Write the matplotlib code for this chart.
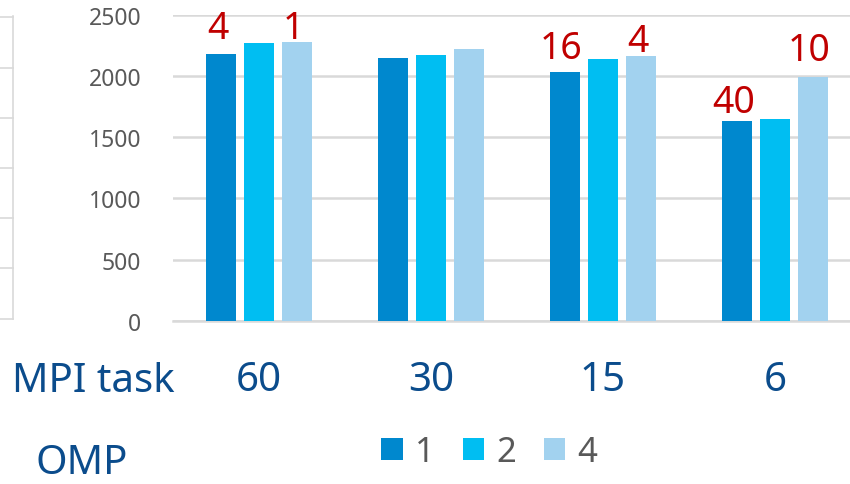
import numpy as np
import matplotlib
matplotlib.use('Agg')
from matplotlib import pyplot as plt
from matplotlib.lines import Line2D
from matplotlib.patches import Patch

plt.rcParams['font.family'] = ['Noto Sans', 'DejaVu Sans']

# MPI task counts on the x axis, one bar per OMP thread count
mpi_tasks = ['60', '30', '15', '6']
omp_threads = ['1', '2', '4']
times_omp1 = [2180, 2150, 2030, 1635]
times_omp2 = [2265, 2175, 2135, 1650]
times_omp4 = [2280, 2220, 2165, 1995]
series = [times_omp1, times_omp2, times_omp4]
colors = ['#0088CE', '#00BEF2', '#A2D2EF']

# red callouts: (group, bar, text, baseline value)
callouts = [(0, 0, '4', 2310), (0, 2, '1', 2310),
            (2, 0, '16', 2144), (2, 2, '4', 2204),
            (3, 0, '40', 1706), (3, 2, '10', 2130)]

W, H = 850, 485
fig = plt.figure(figsize=(W / 100, H / 100), dpi=100)
ax = fig.add_axes([173 / W, (H - 322) / H, (861 - 173) / W, (322 - 15.7) / H])

x = np.arange(len(mpi_tasks))
width = 0.174
step = 0.221
for i, vals in enumerate(series):
    ax.bar(x + (i - 1) * step, vals, width, color=colors[i], zorder=3,
           label=omp_threads[i])

for g, b, txt, yv in callouts:
    ax.text(x[g] + (b - 1) * step - 0.02, yv, txt, color='#C00000', fontsize=27,
            ha='center', va='baseline', zorder=4)

ax.set_xlim(-0.5, 3.5)
ax.set_ylim(0, 2500)
ax.set_yticks([0, 500, 1000, 1500, 2000, 2500])
ax.yaxis.grid(True, color='#D9D9D9', linewidth=1.8, zorder=0)
ax.tick_params(axis='y', length=0, pad=23, labelsize=16.5, labelcolor='#595959')
ax.set_xticks(x)
ax.set_xticklabels(mpi_tasks)
ax.tick_params(axis='x', length=0, pad=28, labelsize=29, labelcolor='#0B4C8C')
for s in ['top', 'right', 'left']:
    ax.spines[s].set_visible(False)
ax.spines['bottom'].set_color('#D9D9D9')
ax.spines['bottom'].set_linewidth(1.8)
ax.set_axisbelow(True)

fig.text(12 / W, (H - 392) / H, 'MPI task', color='#0B4C8C', fontsize=29,
         ha='left', va='baseline')
fig.text(35 / W, 1 / H, 'OMP', color='#0B4C8C', fontsize=29,
         ha='left', va='bottom')

handles = [Patch(facecolor=c, edgecolor='none') for c in colors]
fig.legend(handles, omp_threads, loc='center', bbox_to_anchor=(489.5 / W, (H - 453) / H),
           ncol=3, frameon=False, fontsize=25, labelcolor='#595959',
           handlelength=0.62, handleheight=0.62, handletextpad=0.35,
           columnspacing=0.8, borderaxespad=0, borderpad=0)

# edge of the neighbouring table on the left
fig.add_artist(Line2D([13 / W, 13 / W], [(H - 17) / H, (H - 320) / H],
                      color='#D9D9D9', linewidth=1.2))
for row in [18, 69, 119, 169, 219, 269, 320]:
    fig.add_artist(Line2D([0, 13 / W], [(H - row) / H] * 2,
                          color='#D9D9D9', linewidth=1.2))

fig.savefig('out.png', dpi=100)
